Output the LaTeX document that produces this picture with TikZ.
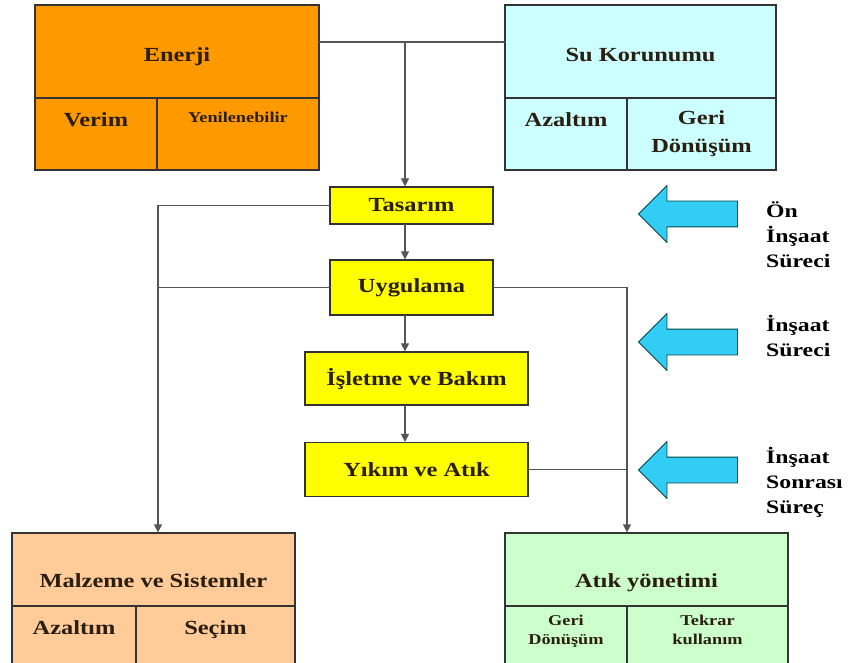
\documentclass[tikz,border=0pt]{standalone}
\usepackage{fontspec}
\setmainfont{Liberation Serif}[FakeStretch=1.22]
\newfontfamily\widefont{Liberation Serif}[FakeStretch=1.25]
\usetikzlibrary{arrows.meta,shapes.arrows}
\definecolor{orangeC}{HTML}{FF9900}
\definecolor{cyanC}{HTML}{CCFFFF}
\definecolor{yellowC}{HTML}{FFFF00}
\definecolor{peachC}{HTML}{FFCC99}
\definecolor{greenC}{HTML}{CCFFCC}
\definecolor{blueC}{HTML}{33CCF5}
\definecolor{txtC}{HTML}{2A1E10}
\definecolor{lineC}{HTML}{555555}
\newcommand{\lowered}[2]{\raisebox{-#1}[0pt][0pt]{#2}}

\begin{document}
\begin{tikzpicture}[x=1pt,y=-1pt,
	every node/.style={font=\fontsize{20}{28}\selectfont\bfseries,text=txtC,inner sep=0pt},
	box/.style={draw=black!80,line width=1.2pt,align=center,outer sep=0pt},
	cell/.style={box,anchor=north west},
	flow/.style={draw=lineC,line width=1.2pt},
	arr/.style={flow,-{Triangle[length=8pt,width=8pt]},shorten >=0.6pt},
	phase/.style={single arrow,shape border rotate=180,fill=blueC,draw=teal!55!black,line width=0.8pt,
		inner xsep=0pt,inner ysep=12.5pt,minimum height=99pt,minimum width=56pt,single arrow head extend=15.5pt},
	lbl/.style={anchor=west,align=left,font=\widefont\fontsize{19}{25}\selectfont\bfseries,text=black}]
	\useasboundingbox (0,0) rectangle (849,663);

	% top boxes
	\node[box,fill=orangeC,minimum width=284pt,minimum height=93pt] (E) at (177,51.5) {\lowered{10pt}{Enerji}};
	\node[cell,fill=orangeC,minimum width=122pt,minimum height=72pt] (E1) at (E.south west) {\lowered{-7.5pt}{Verim}};
	\node[cell,fill=orangeC,minimum width=162pt,minimum height=72pt,font=\fontsize{15}{28}\selectfont\bfseries] (E2) at (E1.north east) {\lowered{-11pt}{Yenilenebilir}};

	\node[box,fill=cyanC,minimum width=271pt,minimum height=93pt] (S) at (640.5,51.5) {\lowered{10pt}{Su Korunumu}};
	\node[cell,fill=cyanC,minimum width=122pt,minimum height=72pt] (S1) at (S.south west) {\lowered{-7.5pt}{Azaltım}};
	\node[cell,fill=cyanC,minimum width=149pt,minimum height=72pt] (S2) at (S1.north east) {Geri\\Dönüşüm};

	% process
	\node[box,fill=yellowC,minimum width=163pt,minimum height=37pt] (T) at (411.5,205.5) {Tasarım};
	\node[box,fill=yellowC,minimum width=163pt,minimum height=55pt] (U) at (411.5,287.5) {Uygulama};
	\node[box,fill=yellowC,minimum width=223pt,minimum height=53pt] (I) at (416.5,378.5) {İşletme ve Bakım};
	\node[box,fill=yellowC,minimum width=223pt,minimum height=54pt] (Y) at (416.5,469.5) {Yıkım ve Atık};

	% bottom boxes
	\node[box,fill=peachC,minimum width=283pt,minimum height=73pt] (M) at (153.5,569.5) {\lowered{18pt}{Malzeme ve Sistemler}};
	\node[cell,fill=peachC,minimum width=124pt,minimum height=72pt] (M1) at (M.south west) {\lowered{-7.5pt}{Azaltım}};
	\node[cell,fill=peachC,minimum width=159pt,minimum height=72pt] (M2) at (M1.north east) {\lowered{-7.5pt}{Seçim}};

	\node[box,fill=greenC,minimum width=283pt,minimum height=73pt] (A) at (646.5,569.5) {\lowered{18pt}{Atık yönetimi}};
	\node[cell,fill=greenC,minimum width=122pt,minimum height=72pt,font=\fontsize{15}{19}\selectfont\bfseries] (A1) at (A.south west) {Geri\\Dönüşüm\\\strut};
	\node[cell,fill=greenC,minimum width=161pt,minimum height=72pt,font=\fontsize{15}{19}\selectfont\bfseries] (A2) at (A1.north east) {Tekrar\\kullanım\\\strut};

	% phases
	\node[phase] (P1) at (694.5,214) {};
	\node[phase] (P2) at (694.5,342) {};
	\node[phase] (P3) at (694.5,470) {};
	\node[lbl] (L1) at (766,235) {Ön\\İnşaat\\Süreci};
	\node[lbl] (L2) at (766,336) {İnşaat\\Süreci};
	\node[lbl] (L3) at (766,482) {İnşaat\\Sonrası\\Süreç};

	\coordinate (j) at (405,42);
	\coordinate (ml) at (158,533);
	\draw[flow] (E.east |- j) -- (S.west |- j);
	\draw[arr] (j) -- (T.north -| j);
	\draw[arr] (T.south -| j) -- (U.north -| j);
	\draw[arr] (U.south -| j) -- (I.north -| j);
	\draw[arr] (I.south -| j) -- (Y.north -| j);
	\draw[arr] (T.west) -| (ml);
	\draw[flow] (U.west) -- (U.west -| ml);
	\draw[arr] (U.east) -| (A.north -| A1.east);
	\draw[flow] (Y.east) -- (Y.east -| A1.east);
\end{tikzpicture}
\end{document}
